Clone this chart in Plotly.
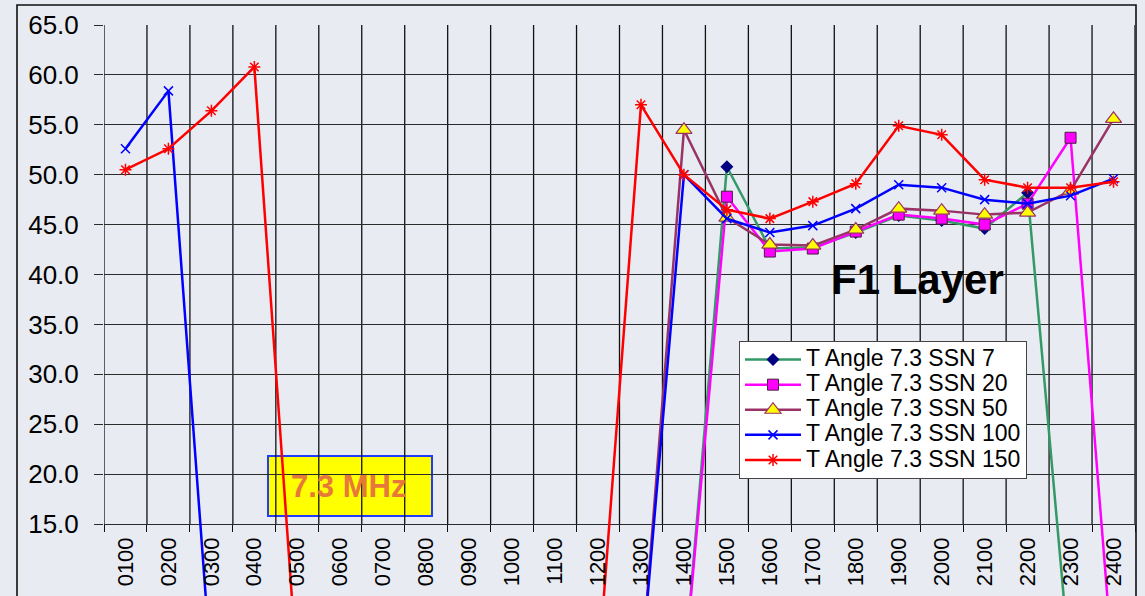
import plotly.graph_objects as go

# ---------------- data ----------------
hours = ["0100", "0200", "0300", "0400", "0500", "0600", "0700", "0800",
         "0900", "1000", "1100", "1200", "1300", "1400", "1500", "1600",
         "1700", "1800", "1900", "2000", "2100", "2200", "2300", "2400"]

ssn7 = [0, 0, 0, 0, 0, 0, 0, 0, 0, 0, 0, 0, 0, 0,
        50.8, 42.6, 42.7, 44.2, 45.9, 45.4, 44.6, 48.2, 0, 0]
ssn20 = [0, 0, 0, 0, 0, 0, 0, 0, 0, 0, 0, 0, 0, 0,
         47.8, 42.3, 42.6, 44.3, 46.0, 45.6, 45.0, 47.1, 53.7, 0]
ssn50 = [0, 0, 0, 0, 0, 0, 0, 0, 0, 0, 0, 0, 0,
         54.5, 45.7, 43.0, 42.9, 44.5, 46.6, 46.4, 46.0, 46.2, 48.4, 55.6]
ssn100 = [52.6, 58.4, 0, 0, 0, 0, 0, 0, 0, 0, 0, 0, 0,
          50.0, 45.6, 44.2, 44.9, 46.6, 49.0, 48.7, 47.5, 47.1, 47.9, 49.6]
ssn150 = [50.5, 52.6, 56.4, 60.8, 0, 0, 0, 0, 0, 0, 0, 0,
          57.0, 50.0, 46.5, 45.6, 47.3, 49.1, 54.9, 54.0, 49.5, 48.7, 48.7, 49.3]

series_names = ["T Angle 7.3 SSN 7", "T Angle 7.3 SSN 20", "T Angle 7.3 SSN 50",
                "T Angle 7.3 SSN 100", "T Angle 7.3 SSN 150"]
y_ticks = [15.0, 20.0, 25.0, 30.0, 35.0, 40.0, 45.0, 50.0, 55.0, 60.0, 65.0]
layer_label = "F1 Layer"
freq_label = "7.3 MHz"

# ---------------- layout constants ----------------
W, H = 1145, 596
ML, MR, MT, MB = 104, 10, 25, 0
PW = W - ML - MR
PH = H - MT - MB
Y_TOP = 65.0
Y_AXIS_PX = 524            # pixel row of the 15.0 line
px_per_unit = (Y_AXIS_PX - MT) / (Y_TOP - y_ticks[0])
Y_BOTTOM = y_ticks[0] - (H - MB - Y_AXIS_PX) / px_per_unit
axis_pos = (H - MB - Y_AXIS_PX) / PH

FONT = "Liberation Sans, Arial, sans-serif"
BG = "#e8ebf2"

styles = [
    dict(line=dict(color="#339966", width=2.5),
         marker=dict(symbol="diamond", size=10, color="#000080")),
    dict(line=dict(color="#ff00ff", width=2.5),
         marker=dict(symbol="square", size=11, color="#ff00ff",
                     line=dict(color="#4a2040", width=1))),
    dict(line=dict(color="#993366", width=2.5),
         marker=dict(symbol="triangle-up", size=14, color="#ffff00",
                     line=dict(color="#993366", width=1.2))),
    dict(line=dict(color="#0000ff", width=2.5),
         marker=dict(symbol="x-thin", size=9, color="#0000ff",
                     line=dict(color="#0000ff", width=1.5))),
    dict(line=dict(color="#ff0000", width=2.5),
         marker=dict(symbol="asterisk", size=10, color="#ff0000",
                     line=dict(color="#ff0000", width=1.5))),
]

fig = go.Figure()
for name, vals, st in zip(series_names, [ssn7, ssn20, ssn50, ssn100, ssn150], styles):
    fig.add_trace(go.Scatter(
        x=hours, y=vals, mode="lines+markers",
        name="<span style='font-size:23px'>" + name + "</span>",
        line=st["line"], marker=st["marker"]))

shapes = []
# yellow frequency box (below grid)
shapes.append(dict(type="rect", xref="paper", yref="paper",
                   x0=(268 - ML) / PW, x1=(432 - ML) / PW,
                   y0=(H - 516) / PH, y1=(H - 456) / PH,
                   fillcolor="#ffff00", line=dict(color="#1f3cff", width=2),
                   layer="below"))
# vertical grid lines at category boundaries, only inside the value range
for i in range(len(hours) + 1):
    shapes.append(dict(type="line", xref="x", yref="y",
                       x0=i - 0.5, x1=i - 0.5, y0=y_ticks[0], y1=Y_TOP,
                       line=dict(color="#111111", width=1.3), layer="below"))
# outer chart border
shapes.append(dict(type="rect", xref="paper", yref="paper",
                   x0=(17 - ML) / PW, x1=(1136 - ML) / PW,
                   y0=-0.2, y1=(H - 5) / PH,
                   line=dict(color="#111111", width=1.6),
                   fillcolor="rgba(0,0,0,0)", layer="above"))

fig.update_layout(
    width=W, height=H,
    margin=dict(l=ML, r=MR, t=MT, b=MB, autoexpand=False),
    paper_bgcolor=BG, plot_bgcolor=BG,
    font=dict(family=FONT, color="black"),
    showlegend=True,
    legend=dict(x=(739 - ML) / PW, y=(H - 341) / PH, xanchor="left", yanchor="top",
                bgcolor="white", bordercolor="#444444", borderwidth=1,
                font=dict(family=FONT, size=17, color="black"),
                itemwidth=56, tracegroupgap=0),
    xaxis=dict(type="category", categoryorder="array", categoryarray=hours,
               range=[-0.5, len(hours) - 0.5], anchor="free", position=axis_pos,
               showgrid=False, zeroline=False, showline=False,
               ticks="outside", tickson="boundaries", ticklen=7,
               tickcolor="#111111", tickwidth=1.3, tickangle=-90,
               tickfont=dict(family=FONT, size=22, color="black"),
               ticklabelstandoff=8),
    yaxis=dict(range=[Y_BOTTOM, Y_TOP], tickvals=y_ticks, tickformat=".1f",
               showgrid=True, gridcolor="#2b2b2b", gridwidth=1.3,
               zeroline=False, showline=False,
               ticks="outside", ticklen=9, tickcolor="#2b2b2b", tickwidth=1.3,
               tickfont=dict(family=FONT, size=26, color="black"),
               ticklabelstandoff=10),
    shapes=shapes,
    annotations=[
        dict(text="<b>" + layer_label + "</b>", xref="paper", yref="paper",
             x=(917 - ML) / PW, y=(H - 279) / PH, xanchor="center", yanchor="middle",
             showarrow=False, font=dict(family=FONT, size=42, color="black")),
        dict(text="<b>" + freq_label + "</b>", xref="paper", yref="paper",
             x=(348 - ML) / PW, y=(H - 486) / PH, xanchor="center", yanchor="middle",
             showarrow=False, font=dict(family=FONT, size=31, color="#e8783a")),
    ],
)

fig.write_html("out.html",
               config={"displayModeBar": False},
               post_script="document.body.style.margin='0';document.body.style.overflow='hidden';")
